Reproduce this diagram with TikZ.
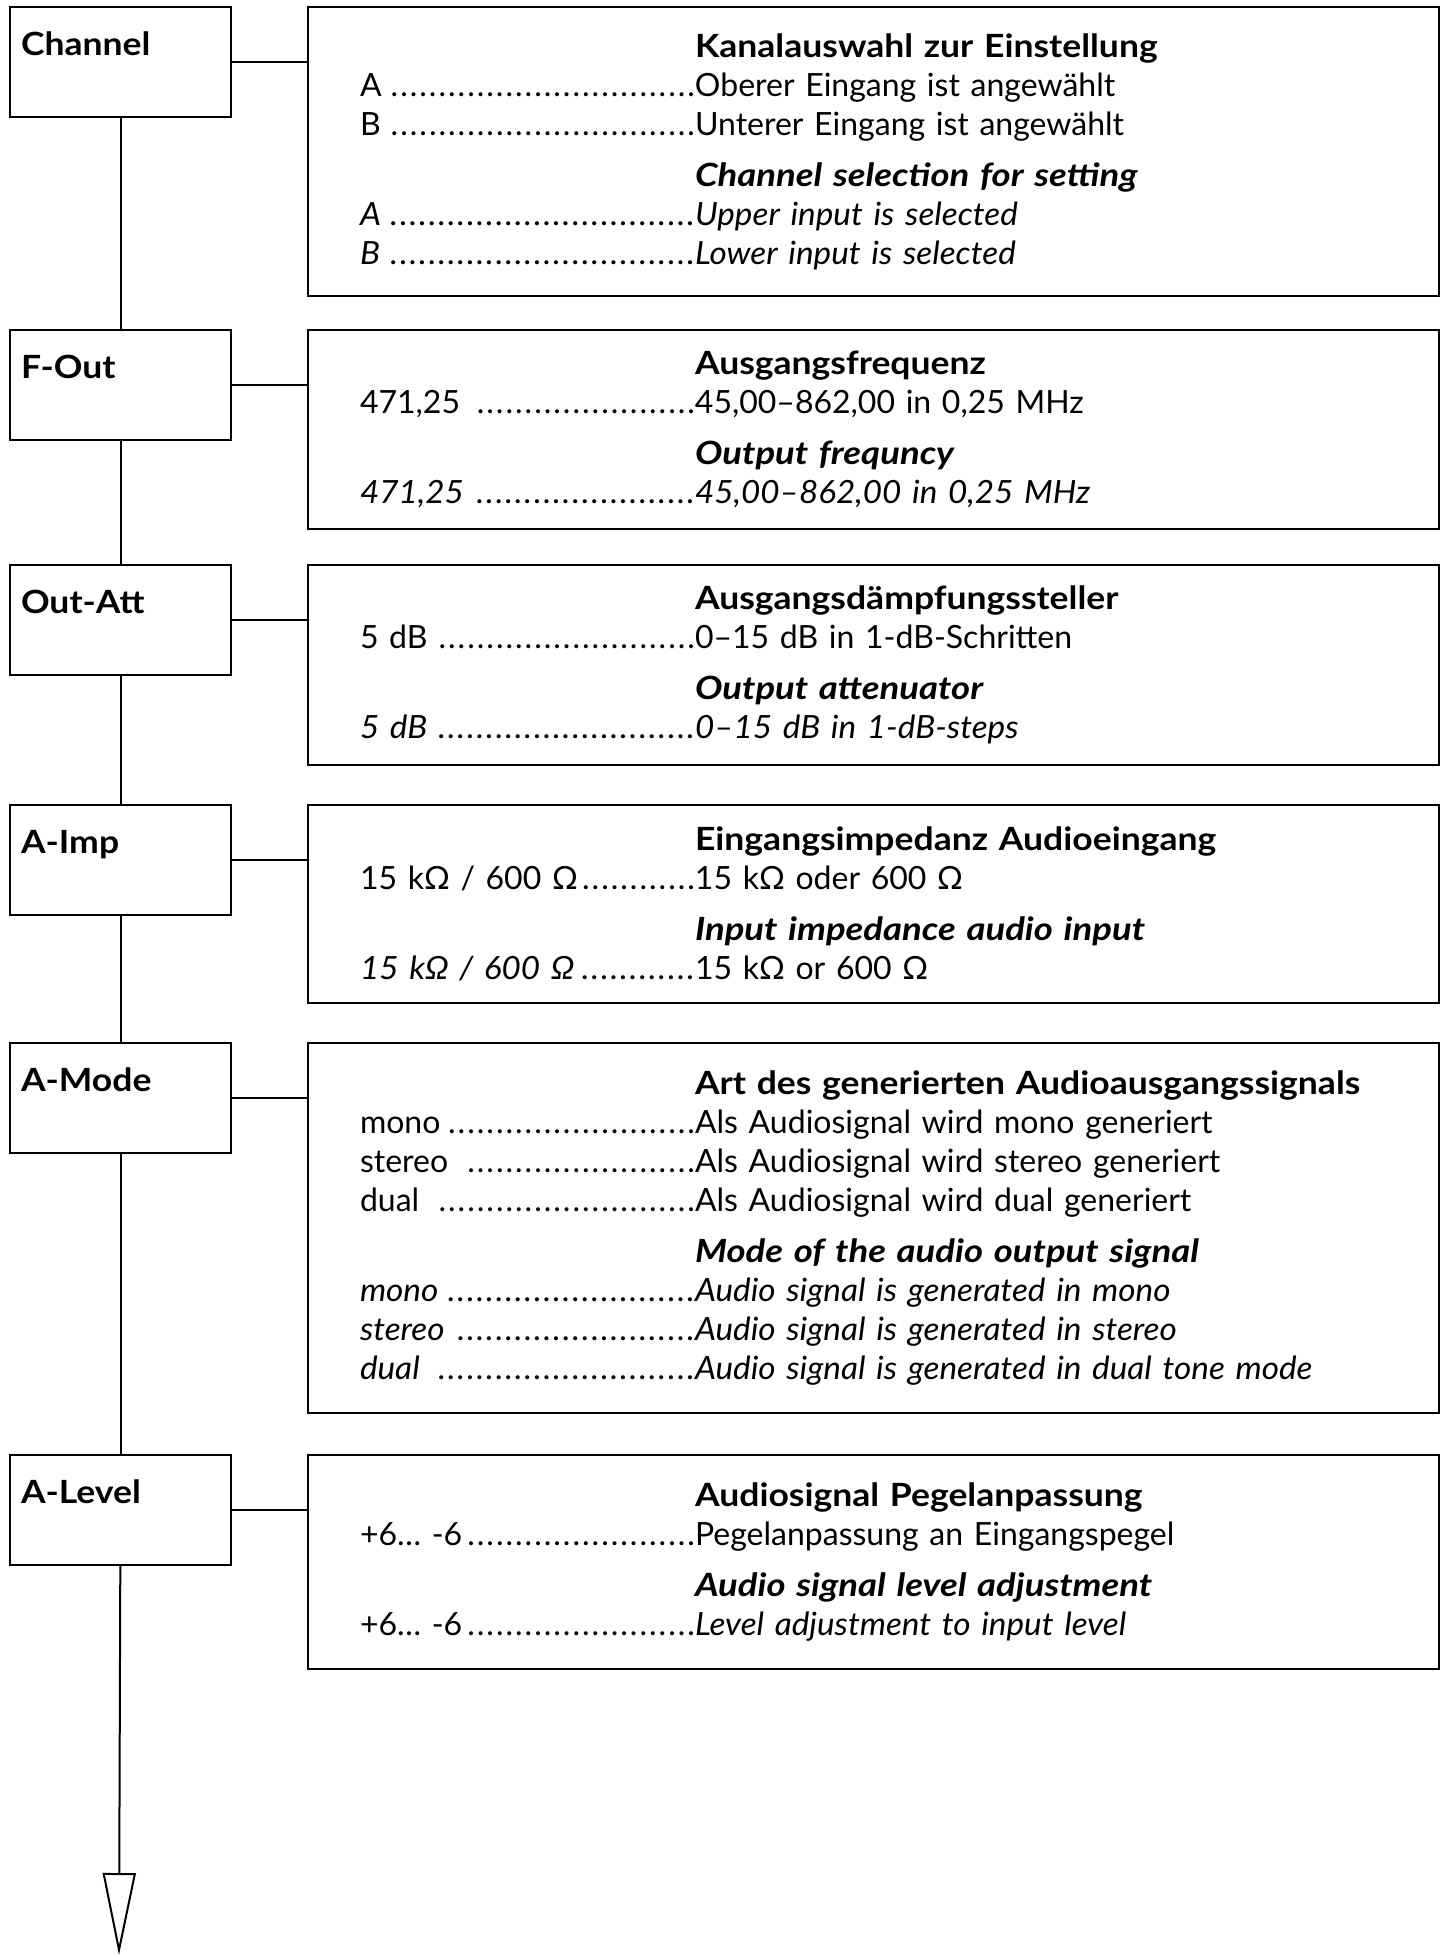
\documentclass[tikz,border=0pt]{standalone}
\usepackage{fontspec}
\setmainfont{Lato}[ItalicFeatures={FakeStretch=1.04}, BoldFeatures={FakeStretch=1.11}, BoldItalicFeatures={FakeStretch=1.14}]
\usetikzlibrary{arrows.meta}
\newlength\colw \setlength\colw{167.5pt}
\newcommand\dotrow[2]{\leavevmode\hbox to \colw{#1\leaders\hbox to 4.785pt{\hss.}\hfill}#2}
\newcommand\headrow[1]{\hspace*{\colw}\textbf{#1}}
\begin{document}
\begin{tikzpicture}[x=0.5pt, y=-0.5pt, line width=1pt, font=\fontsize{16}{19.5}\selectfont,
  menubox/.style={draw, anchor=north west, inner sep=0pt, minimum width=110.5pt, minimum height=55pt},
  menulbl/.style={anchor=north west, inner xsep=5.5pt, inner ysep=12.5pt, font=\fontsize{16}{19.5}\selectfont\bfseries},
  infobox/.style={draw, anchor=north west, inner xsep=26pt, inner ysep=0pt, text width=513.5pt, align=left}]
  \useasboundingbox (0,0) rectangle (1448,1957);
  % menu items
  \node[menubox, label={[menulbl]north west:Channel}] (ch) at (9,6) {};
  \node[menubox, label={[menulbl]north west:F-Out}] (fo) at (9,329) {};
  \node[menubox, label={[menulbl]north west:Out-Att}] (oa) at (9,564) {};
  \node[menubox, label={[menulbl]north west:A-Imp}] (ai) at (9,804) {};
  \node[menubox, label={[menulbl]north west:A-Mode}] (am) at (9,1042) {};
  \node[menubox, label={[menulbl]north west:A-Level}] (al) at (9,1454) {};
  % descriptions
  \node[infobox, minimum height=144.5pt] (chd) at (307,6) {\headrow{Kanalauswahl zur Einstellung}\\
    \dotrow{A}{Oberer Eingang ist angewählt}\\
    \dotrow{B}{Unterer Eingang ist angewählt}\\[6pt]
    \headrow{\itshape Channel selection for setting}\\
    {\itshape\dotrow{A}{Upper input is selected}}\\
    {\itshape\dotrow{B}{Lower input is selected}}};
  \node[infobox, minimum height=99.5pt] (fod) at (307,329) {\headrow{Ausgangsfrequenz}\\
    \dotrow{471,25 }{45,00–862,00 in 0,25 MHz}\\[6pt]
    \headrow{\itshape Output frequncy}\\
    {\itshape\dotrow{471,25 }{45,00–862,00 in 0,25 MHz}}};
  \node[infobox, minimum height=100pt] (oad) at (307,564) {\headrow{Ausgangsdämpfungssteller}\\
    \dotrow{5 dB}{0–15 dB in 1-dB-Schritten}\\[6pt]
    \headrow{\itshape Output attenuator}\\
    {\itshape\dotrow{5 dB}{0–15 dB in 1-dB-steps}}};
  \node[infobox, minimum height=99pt] (aid) at (307,804) {\headrow{Eingangsimpedanz Audioeingang}\\
    \dotrow{15 kΩ / 600 Ω}{15 kΩ oder 600 Ω}\\[6pt]
    \headrow{\itshape Input impedance audio input}\\
    {\itshape\dotrow{15 kΩ / 600 Ω}{\upshape 15 kΩ or 600 Ω}}};
  \node[infobox, minimum height=185pt] (amd) at (307,1042) {\headrow{Art des generierten Audioausgangssignals}\\
    \dotrow{mono}{Als Audiosignal wird mono generiert}\\
    \dotrow{stereo }{Als Audiosignal wird stereo generiert}\\
    \dotrow{dual }{Als Audiosignal wird dual generiert}\\[6pt]
    \headrow{\itshape Mode of the audio output signal}\\
    {\itshape\dotrow{mono}{Audio signal is generated in mono}}\\
    {\itshape\dotrow{stereo }{Audio signal is generated in stereo}}\\
    {\itshape\dotrow{dual }{Audio signal is generated in dual tone mode}}};
  \node[infobox, minimum height=107pt] (ald) at (307,1454) {\headrow{Audiosignal Pegelanpassung}\\
    \dotrow{+6… -6}{Pegelanpassung an Eingangspegel}\\[6pt]
    \headrow{\itshape Audio signal level adjustment}\\
    \dotrow{+6… -6}{\itshape Level adjustment to input level}};
  % connectors
  \foreach \m in {ch,fo,oa,ai,am,al} \draw (\m.east) -- (\m.east -| \m d.west);
  \draw (ch) -- (fo) (fo) -- (oa) (oa) -- (ai) (ai) -- (am) (am) -- (al);
  \coordinate (next) at (119,1955);
  \draw[-{Triangle[open, length=41pt, width=16.5pt]}] (al) -- (next);
\end{tikzpicture}
\end{document}
